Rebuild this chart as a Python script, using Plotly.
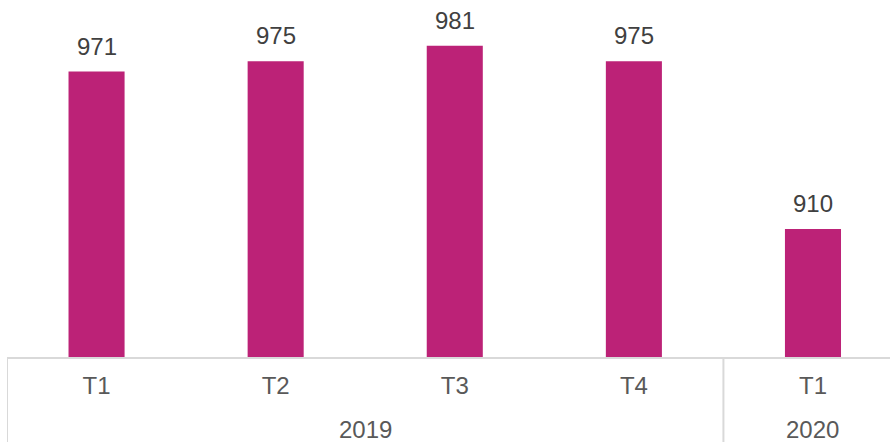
"""Barras trimestrais 2019-2020 com eixo de categorias em dois niveis."""

import plotly.graph_objects as go

# Dados
quarters = ["T1", "T2", "T3", "T4", "T1"]
years = ["2019", "2019", "2019", "2019", "2020"]
values = [971, 975, 981, 975, 910]

BAR_COLOR = "#BC2277"
GRID_COLOR = "#D9D9D9"
FONT = "Liberation Sans, Arial, sans-serif"

positions = list(range(len(values)))

fig = go.Figure(
    go.Bar(
        x=positions,
        y=values,
        marker=dict(color=BAR_COLOR, line=dict(width=0)),
        hoverinfo="x+y",
    )
)

# Rotulos de valor acima das barras
for pos, val in zip(positions, values):
    fig.add_annotation(
        x=pos,
        y=val,
        text=str(val),
        showarrow=False,
        yanchor="bottom",
        yshift=10,
        font=dict(family=FONT, size=24, color="#404040"),
    )

# Grupos de anos: rotulo centrado + divisorias nas fronteiras
groups = []
for pos, yr in zip(positions, years):
    if groups and groups[-1][0] == yr:
        groups[-1][1].append(pos)
    else:
        groups.append((yr, [pos]))

for yr, members in groups:
    fig.add_annotation(
        x=sum(members) / len(members),
        y=-0.2017,
        yref="paper",
        text=yr,
        showarrow=False,
        yanchor="middle",
        font=dict(family=FONT, size=24, color="#595959"),
    )
    fig.add_shape(
        type="line",
        x0=members[0] - 0.5,
        x1=members[0] - 0.5,
        y0=0,
        y1=-0.24,
        xref="x",
        yref="paper",
        line=dict(color=GRID_COLOR, width=2),
    )

fig.update_layout(
    width=890,
    height=442,
    margin=dict(l=7, r=0, t=0, b=85),
    paper_bgcolor="white",
    plot_bgcolor="white",
    bargap=0.687,
    showlegend=False,
    font=dict(family=FONT),
)

fig.update_xaxes(
    range=[-0.5, 4.43],
    tickvals=positions,
    ticktext=quarters,
    tickfont=dict(family=FONT, size=24, color="#595959"),
    ticks="outside",
    ticklen=6,
    tickcolor="rgba(0,0,0,0)",
    showline=True,
    linecolor=GRID_COLOR,
    linewidth=2,
    showgrid=False,
    zeroline=False,
)

fig.update_yaxes(
    range=[860.4, 998.7],
    visible=False,
    showgrid=False,
    zeroline=False,
)

# remove a margem padrao do body para o grafico ocupar a janela inteira
fig.write_html(
    "out.html",
    config={"displayModeBar": False},
    post_script="document.body.style.margin='0';",
)
